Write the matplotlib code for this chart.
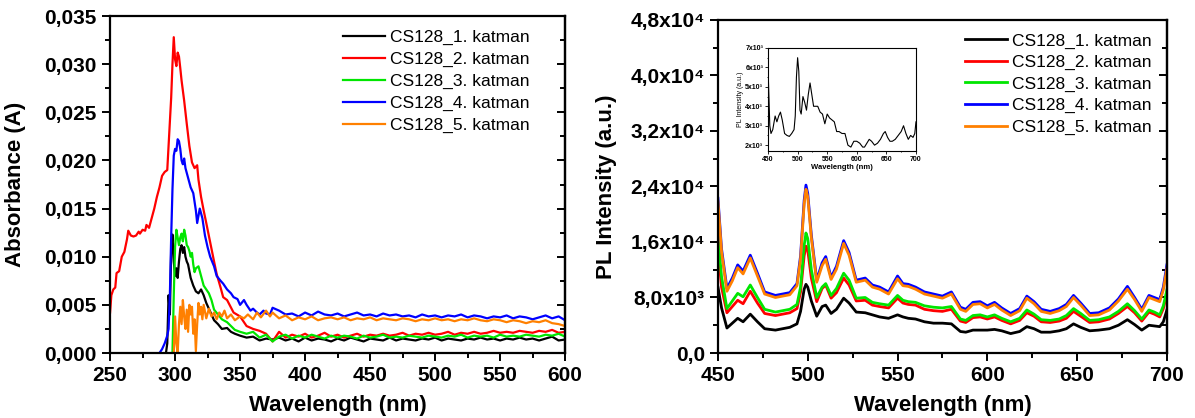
import numpy as np
import matplotlib
matplotlib.use("Agg")
import matplotlib.pyplot as plt
from matplotlib.ticker import FuncFormatter, MultipleLocator

plt.rcParams['font.family'] = ['Liberation Sans', 'DejaVu Sans']

labels = ["CS128_1. katman", "CS128_2. katman", "CS128_3. katman",
          "CS128_4. katman", "CS128_5. katman"]
colors = ["#000000", "#ff0000", "#00e600", "#0000ff", "#ff8000"]

# ---- absorbance (left) ----
tail_wl = np.arange(380, 601, 5)

black_wl = [293, 294, 295, 296, 297, 298, 299, 300, 301, 302, 303, 304, 305, 306, 307,
            308, 309, 310, 311, 312, 314, 316, 318, 320, 322, 324, 326, 328, 330, 333,
            336, 340, 343, 346, 350, 355, 360, 365, 370, 375]
black_abs = [0.0, 0.0010, 0.0060, 0.0040, 0.0105, 0.0123, 0.0095, 0.0080, 0.0088, 0.0078,
             0.0095, 0.0108, 0.0112, 0.0104, 0.0110, 0.0100, 0.0095, 0.0092, 0.0085, 0.0078,
             0.0070, 0.0064, 0.0062, 0.0066, 0.0060, 0.0052, 0.0046, 0.0040, 0.0034, 0.0030,
             0.0025, 0.0026, 0.0022, 0.0020, 0.0018, 0.0016, 0.0017, 0.0013, 0.0015, 0.0014]
black_tail = [0.0016, 0.0013, 0.0015, 0.0012, 0.0016, 0.0013, 0.0015, 0.0014, 0.0012,
              0.0015, 0.0013, 0.0016, 0.0014, 0.0012, 0.0015, 0.0014, 0.0013, 0.0016,
              0.0013, 0.0015, 0.0014, 0.0013, 0.0015, 0.0014, 0.0016, 0.0013, 0.0015,
              0.0014, 0.0013, 0.0015, 0.0014, 0.0016, 0.0014, 0.0015, 0.0013, 0.0015,
              0.0014, 0.0016, 0.0014, 0.0015, 0.0013, 0.0015, 0.0017, 0.0013, 0.0014]

red_wl = [250, 251, 252.5, 254, 255, 257, 259, 261, 263, 264, 266, 268, 270, 272, 273,
          275, 277, 278, 280, 282, 284, 286, 288, 290, 292, 294, 295, 296, 297, 298,
          299, 300, 301, 302, 303, 304, 305, 307, 309, 311, 313, 315, 317, 318, 320,
          322, 324, 327, 330, 332, 335, 337, 340, 345, 350, 355, 360, 365, 370, 375]
red_abs = [0.0042, 0.0060, 0.0066, 0.0068, 0.0083, 0.0085, 0.0100, 0.0105, 0.0118, 0.0127,
           0.0122, 0.0121, 0.0122, 0.0126, 0.0124, 0.0128, 0.0127, 0.0133, 0.0130, 0.0140,
           0.0150, 0.0162, 0.0172, 0.0184, 0.0188, 0.0190, 0.0215, 0.0240, 0.0265, 0.0300,
           0.0328, 0.0305, 0.0298, 0.0312, 0.0308, 0.0296, 0.0283, 0.0262, 0.0238, 0.0215,
           0.0198, 0.0192, 0.0195, 0.0180, 0.0162, 0.0148, 0.0135, 0.0115, 0.0095, 0.0082,
           0.0068, 0.0058, 0.0055, 0.0042, 0.0038, 0.0028, 0.0025, 0.0023, 0.0020, 0.0012]
red_tail = [0.0022, 0.0016, 0.0019, 0.0017, 0.0020, 0.0016, 0.0018, 0.0021, 0.0017,
            0.0019, 0.0016, 0.0018, 0.0020, 0.0017, 0.0019, 0.0018, 0.0020, 0.0018,
            0.0019, 0.0021, 0.0018, 0.0020, 0.0019, 0.0021, 0.0019, 0.0020, 0.0022,
            0.0019, 0.0021, 0.0020, 0.0022, 0.0020, 0.0021, 0.0023, 0.0021, 0.0022,
            0.0021, 0.0023, 0.0022, 0.0021, 0.0023, 0.0022, 0.0024, 0.0021, 0.0022]

green_wl = [298, 299, 300, 301, 302, 303, 304, 305, 306, 307, 308, 309, 310, 311, 312,
            313, 314, 315, 316, 318, 320, 322, 324, 326, 328, 330, 333, 336, 340, 343,
            346, 350, 355, 360, 365, 370, 375]
green_abs = [0.0, 0.0060, 0.0110, 0.0128, 0.0120, 0.0112, 0.0120, 0.0124, 0.0116, 0.0128,
             0.0122, 0.0112, 0.0110, 0.0106, 0.0100, 0.0104, 0.0092, 0.0084, 0.0088, 0.0090,
             0.0080, 0.0070, 0.0066, 0.0062, 0.0055, 0.0045, 0.0040, 0.0035, 0.0032, 0.0028,
             0.0024, 0.0022, 0.0020, 0.0022, 0.0016, 0.0019, 0.0012]
green_tail = [0.0017, 0.0019, 0.0015, 0.0018, 0.0016, 0.0019, 0.0017, 0.0015, 0.0018,
              0.0016, 0.0018, 0.0017, 0.0015, 0.0018, 0.0016, 0.0017, 0.0019, 0.0016,
              0.0017, 0.0016, 0.0018, 0.0017, 0.0016, 0.0018, 0.0017, 0.0016, 0.0018,
              0.0017, 0.0019, 0.0016, 0.0018, 0.0017, 0.0018, 0.0016, 0.0019, 0.0017,
              0.0018, 0.0017, 0.0019, 0.0018, 0.0017, 0.0019, 0.0018, 0.0020, 0.0017]

blue_wl = [288, 290, 292, 294, 295, 296, 297, 298, 299, 300, 301, 302, 303, 304, 305,
           306, 307, 308, 310, 312, 314, 316, 317, 319, 321, 323, 325, 327, 330, 332,
           335, 337, 340, 343, 345, 348, 350, 353, 355, 358, 360, 363, 365, 368, 370,
           373, 375]
blue_abs = [0.0, 0.0004, 0.0010, 0.0018, 0.0025, 0.0060, 0.0120, 0.0170, 0.0205, 0.0212,
            0.0210, 0.0222, 0.0220, 0.0212, 0.0200, 0.0196, 0.0202, 0.0192, 0.0182, 0.0172,
            0.0166, 0.0148, 0.0135, 0.0150, 0.0140, 0.0122, 0.0110, 0.0100, 0.0090, 0.0080,
            0.0075, 0.0072, 0.0066, 0.0062, 0.0058, 0.0056, 0.0050, 0.0055, 0.0050, 0.0044,
            0.0046, 0.0042, 0.0040, 0.0044, 0.0041, 0.0040, 0.0047]
blue_tail = [0.0044, 0.0040, 0.0041, 0.0038, 0.0042, 0.0039, 0.0043, 0.0040, 0.0039,
             0.0041, 0.0038, 0.0040, 0.0042, 0.0039, 0.0040, 0.0038, 0.0041, 0.0039,
             0.0040, 0.0038, 0.0039, 0.0037, 0.0040, 0.0038, 0.0039, 0.0037, 0.0039,
             0.0038, 0.0040, 0.0037, 0.0039, 0.0038, 0.0036, 0.0038, 0.0037, 0.0039,
             0.0036, 0.0038, 0.0037, 0.0035, 0.0037, 0.0039, 0.0036, 0.0038, 0.0034]

orange_wl = [299, 300, 301, 302, 303, 304, 305, 306, 307, 308, 309, 310, 311, 312, 313,
             314, 315, 316, 317, 318, 319, 320, 321, 322, 324, 326, 328, 330, 332, 334,
             336, 338, 340, 343, 346, 350, 353, 356, 360, 363, 366, 370, 373, 375]
orange_abs = [0.0, 0.0038, 0.0010, 0.0000, 0.0030, 0.0048, 0.0030, 0.0055, 0.0038, 0.0025,
              0.0045, 0.0022, 0.0050, 0.0040, 0.0048, 0.0020, 0.0035, 0.0002, 0.0030, 0.0052,
              0.0040, 0.0048, 0.0035, 0.0050, 0.0036, 0.0046, 0.0038, 0.0042, 0.0035, 0.0042,
              0.0038, 0.0044, 0.0036, 0.0040, 0.0034, 0.0038, 0.0036, 0.0040, 0.0035, 0.0042,
              0.0037, 0.0044, 0.0038, 0.0042]
orange_tail = [0.0036, 0.0039, 0.0034, 0.0037, 0.0035, 0.0038, 0.0034, 0.0036, 0.0037,
               0.0035, 0.0037, 0.0034, 0.0036, 0.0035, 0.0037, 0.0034, 0.0036, 0.0035,
               0.0034, 0.0036, 0.0035, 0.0033, 0.0035, 0.0034, 0.0036, 0.0034, 0.0035,
               0.0033, 0.0035, 0.0034, 0.0036, 0.0034, 0.0033, 0.0035, 0.0034, 0.0032,
               0.0034, 0.0033, 0.0031, 0.0033, 0.0032, 0.0034, 0.0031, 0.0030, 0.0028]

# ---- photoluminescence (right) ----
pl_wl = [450, 452, 455, 458, 461, 464, 468, 472, 476, 482, 490, 494, 496, 498, 499,
         500, 502, 505, 508, 510, 513, 516, 520, 523, 527, 532, 536, 540, 545, 550,
         553, 556, 560, 565, 570, 575, 580, 585, 588, 592, 596, 600, 604, 608, 613,
         618, 622, 626, 630, 635, 640, 644, 648, 652, 657, 662, 668, 673, 678, 682,
         686, 690, 693, 696, 698, 700]
pl_1 = [9500, 6500, 3600, 4300, 5000, 4500, 5600, 4500, 3500, 3300, 3700, 4200, 6000, 9200, 9900,
        9500, 7500, 5300, 6700, 6900, 5700, 6300, 7900, 7200, 5900, 5800, 5500, 5200, 5000, 5500,
        5200, 5000, 4900, 4500, 4300, 4300, 4200, 3100, 3000, 3300, 3300, 3300, 3400, 3200, 2800,
        3100, 3800, 3500, 3000, 3000, 3200, 3500, 4200, 3700, 3200, 3300, 3500, 4000, 4800, 4100,
        3300, 4000, 3900, 3800, 4500, 6200]
pl_2 = [15000, 9500, 5800, 6700, 7600, 7100, 8900, 7200, 5700, 5400, 5800, 6400, 8800, 14000, 15400,
        14800, 10800, 7400, 9300, 9800, 7900, 8700, 10800, 9800, 7500, 7600, 6900, 6700, 6500, 7900,
        7200, 7000, 6900, 6300, 6100, 6000, 6300, 4600, 4400, 5100, 5200, 4900, 5200, 4700, 4200,
        4700, 5800, 5300, 4500, 4400, 4600, 5000, 6000, 5300, 4400, 4500, 4900, 5700, 6700, 5800,
        4600, 5900, 5600, 5200, 6400, 8600]
pl_3 = [17000, 11000, 6400, 7500, 8600, 8100, 9800, 8000, 6300, 5900, 6300, 7000, 9500, 15500, 17300,
        16500, 12000, 8000, 9500, 10000, 8300, 9300, 11500, 10500, 7900, 8000, 7300, 7100, 6900, 8300,
        7600, 7400, 7300, 6800, 6600, 6500, 6700, 4900, 4700, 5400, 5500, 5200, 5500, 5000, 4500,
        5000, 6200, 5600, 4800, 4700, 4900, 5400, 6400, 5700, 4700, 4800, 5200, 6000, 7100, 6100,
        4900, 6200, 5900, 5500, 6800, 9100]
pl_4 = [22300, 15000, 9300, 10800, 12700, 11800, 14100, 11500, 8800, 8300, 8700, 10000, 14000, 22000, 24200,
        23000, 17000, 10500, 13000, 13900, 10900, 12500, 16200, 14500, 10500, 10800, 9800, 9500, 8800, 11100,
        10000, 9900, 9500, 8800, 8500, 8200, 8800, 6600, 6300, 7300, 7400, 6800, 7300, 6500, 5700,
        6400, 8200, 7400, 6300, 6000, 6400, 7000, 8300, 7200, 5700, 5800, 6500, 7800, 9600, 8000,
        6300, 8300, 8000, 7700, 9500, 12700]
pl_5 = [21800, 14600, 8900, 10400, 12300, 11400, 13700, 11100, 8500, 8000, 8400, 9700, 13600, 21500, 23600,
        22500, 16600, 10200, 12600, 13500, 10600, 12100, 15800, 14100, 10200, 10500, 9500, 9200, 8500, 10700,
        9700, 9600, 9200, 8500, 8200, 7900, 8500, 6300, 6000, 7000, 7100, 6500, 7000, 6200, 5400,
        6100, 7900, 7100, 6000, 5700, 6100, 6700, 8000, 6900, 5400, 5500, 6200, 7500, 9200, 7700,
        6000, 8000, 7700, 7400, 9100, 12200]

inset_wl = [450, 451, 453, 455, 458, 462, 465, 468, 471, 474, 478, 482, 486, 490, 494,
            496, 498, 500, 502, 504, 506, 509, 512, 515, 518, 521, 524, 527, 530, 534,
            538, 542, 546, 550, 554, 558, 562, 566, 570, 575, 580, 585, 590, 595, 600,
            605, 610, 613, 617, 621, 625, 630, 635, 640, 645, 648, 652, 656, 660, 665,
            670, 675, 679, 683, 687, 691, 695, 698, 700]
inset_pl = [6000, 5000, 3000, 2600, 2800, 3500, 3200, 3500, 3700, 3300, 2600, 2500, 2450, 2600, 2800,
            3500, 5500, 6500, 5800, 3800, 3600, 4500, 4200, 3800, 4600, 5200, 4600, 4000, 4000, 4000,
            3700, 3600, 3100, 3600, 3400, 3300, 3200, 2700, 2700, 2600, 2600, 2000, 1900, 2200, 2200,
            2100, 1900, 1900, 2100, 2300, 2200, 2000, 2100, 2300, 2600, 2700, 2400, 2200, 2200, 2300,
            2500, 2700, 3000, 2600, 2300, 2500, 2400, 2600, 3200]

SUP = {"3": "\u00b3", "4": "\u2074"}


def comma_fmt(v, pos):
    return f"{v:.3f}".replace(".", ",")


def sci_fmt(v, pos):
    if v < 1:
        return "0,0" if abs(v) < 1 else ""
    exp = int(np.floor(np.log10(v)))
    return f"{v / 10**exp:.1f}".replace(".", ",") + "x10" + SUP.get(str(exp), "")


def sci_int_fmt(v, pos):
    if v < 1:
        return ""
    exp = int(np.floor(np.log10(v)))
    return f"{v / 10**exp:.0f}x10" + SUP.get(str(exp), "")


def style_axes(ax, size=15, major=6, minor=3.5):
    for s in ax.spines.values():
        s.set_linewidth(1.6)
    ax.tick_params(which="both", direction="out", width=1.4, labelsize=size,
                   top=False, right=False)
    ax.tick_params(which="major", length=major)
    ax.tick_params(which="minor", length=minor)
    for lab in ax.get_xticklabels() + ax.get_yticklabels():
        lab.set_fontweight("bold")
    # mirrored ticks on the right spine, pointing inward
    sec = ax.secondary_yaxis("right")
    sec.yaxis.set_major_locator(ax.yaxis.get_major_locator())
    sec.yaxis.set_minor_locator(ax.yaxis.get_minor_locator())
    sec.tick_params(which="both", direction="in", width=1.4, labelright=False)
    sec.tick_params(which="major", length=major)
    sec.tick_params(which="minor", length=minor)
    sec.spines["right"].set_linewidth(1.6)


fig = plt.figure(figsize=(11.95, 4.18), dpi=100)

# left panel
ax1 = fig.add_axes([0.0921, 0.1555, 0.3808, 0.8062])
abs_series = [(black_wl, black_abs, black_tail), (red_wl, red_abs, red_tail),
              (green_wl, green_abs, green_tail), (blue_wl, blue_abs, blue_tail),
              (orange_wl, orange_abs, orange_tail)]
for (wl, head, tail), c, lab in zip(abs_series, colors, labels):
    x = list(wl) + list(tail_wl)
    y = list(head) + list(tail)
    ax1.plot(x, y, color=c, lw=1.6, label=lab)
ax1.set_xlim(250, 600)
ax1.set_ylim(0, 0.035)
ax1.xaxis.set_major_locator(MultipleLocator(50))
ax1.xaxis.set_minor_locator(MultipleLocator(25))
ax1.yaxis.set_major_locator(MultipleLocator(0.005))
ax1.yaxis.set_minor_locator(MultipleLocator(0.0025))
ax1.yaxis.set_major_formatter(FuncFormatter(comma_fmt))
style_axes(ax1)
ax1.set_xlabel("Wavelength (nm)", fontsize=16, fontweight="bold")
ax1.set_ylabel("Absorbance (A)", fontsize=16, fontweight="bold")
ax1.xaxis.set_label_coords(0.5, -0.125)
ax1.yaxis.set_label_coords(-0.185, 0.5)
ax1.legend(loc="upper left", bbox_to_anchor=(0.512, 0.958), frameon=False,
           fontsize=12.5, handlelength=2.4, handletextpad=0.3, labelspacing=0.38,
           borderaxespad=0, borderpad=0)

# right panel
ax2 = fig.add_axes([0.6008, 0.1555, 0.3757, 0.7967])
for y, c, lab in zip([pl_1, pl_2, pl_3, pl_4, pl_5], colors, labels):
    ax2.plot(pl_wl, y, color=c, lw=2.0, label=lab)
ax2.set_xlim(450, 700)
ax2.set_ylim(0, 48000)
ax2.xaxis.set_major_locator(MultipleLocator(50))
ax2.xaxis.set_minor_locator(MultipleLocator(25))
ax2.yaxis.set_major_locator(MultipleLocator(8000))
ax2.yaxis.set_minor_locator(MultipleLocator(4000))
ax2.yaxis.set_major_formatter(FuncFormatter(sci_fmt))
style_axes(ax2)
ax2.set_xlabel("Wavelength (nm)", fontsize=16, fontweight="bold")
ax2.set_ylabel("PL Intensity (a.u.)", fontsize=16, fontweight="bold")
ax2.xaxis.set_label_coords(0.5, -0.126)
ax2.yaxis.set_label_coords(-0.225, 0.5)
ax2.legend(loc="upper left", bbox_to_anchor=(0.55, 0.96), frameon=False,
           fontsize=12.5, handlelength=2.4, handletextpad=0.3, labelspacing=0.36,
           borderaxespad=0, borderpad=0)

# inset
ax3 = fig.add_axes([0.6427, 0.6388, 0.1238, 0.2464])
ax3.plot(inset_wl, inset_pl, color="black", lw=0.8)
ax3.set_xlim(450, 700)
ax3.set_ylim(1700, 7000)
ax3.xaxis.set_major_locator(MultipleLocator(50))
ax3.xaxis.set_minor_locator(MultipleLocator(25))
ax3.yaxis.set_major_locator(MultipleLocator(1000))
ax3.yaxis.set_minor_locator(MultipleLocator(500))
ax3.yaxis.set_major_formatter(FuncFormatter(sci_int_fmt))
for s in ax3.spines.values():
    s.set_linewidth(0.8)
ax3.tick_params(which="both", direction="out", width=0.6, labelsize=5, pad=1.5)
ax3.tick_params(which="major", length=2)
ax3.tick_params(which="minor", length=1)
for lab in ax3.get_xticklabels() + ax3.get_yticklabels():
    lab.set_fontweight("bold")
ax3.set_xlabel("Wavelength (nm)", fontsize=5.5, fontweight="bold", labelpad=1)
ax3.set_ylabel("PL Intensity (a.u.)", fontsize=5, labelpad=1)

fig.savefig("out.png", dpi=100)
